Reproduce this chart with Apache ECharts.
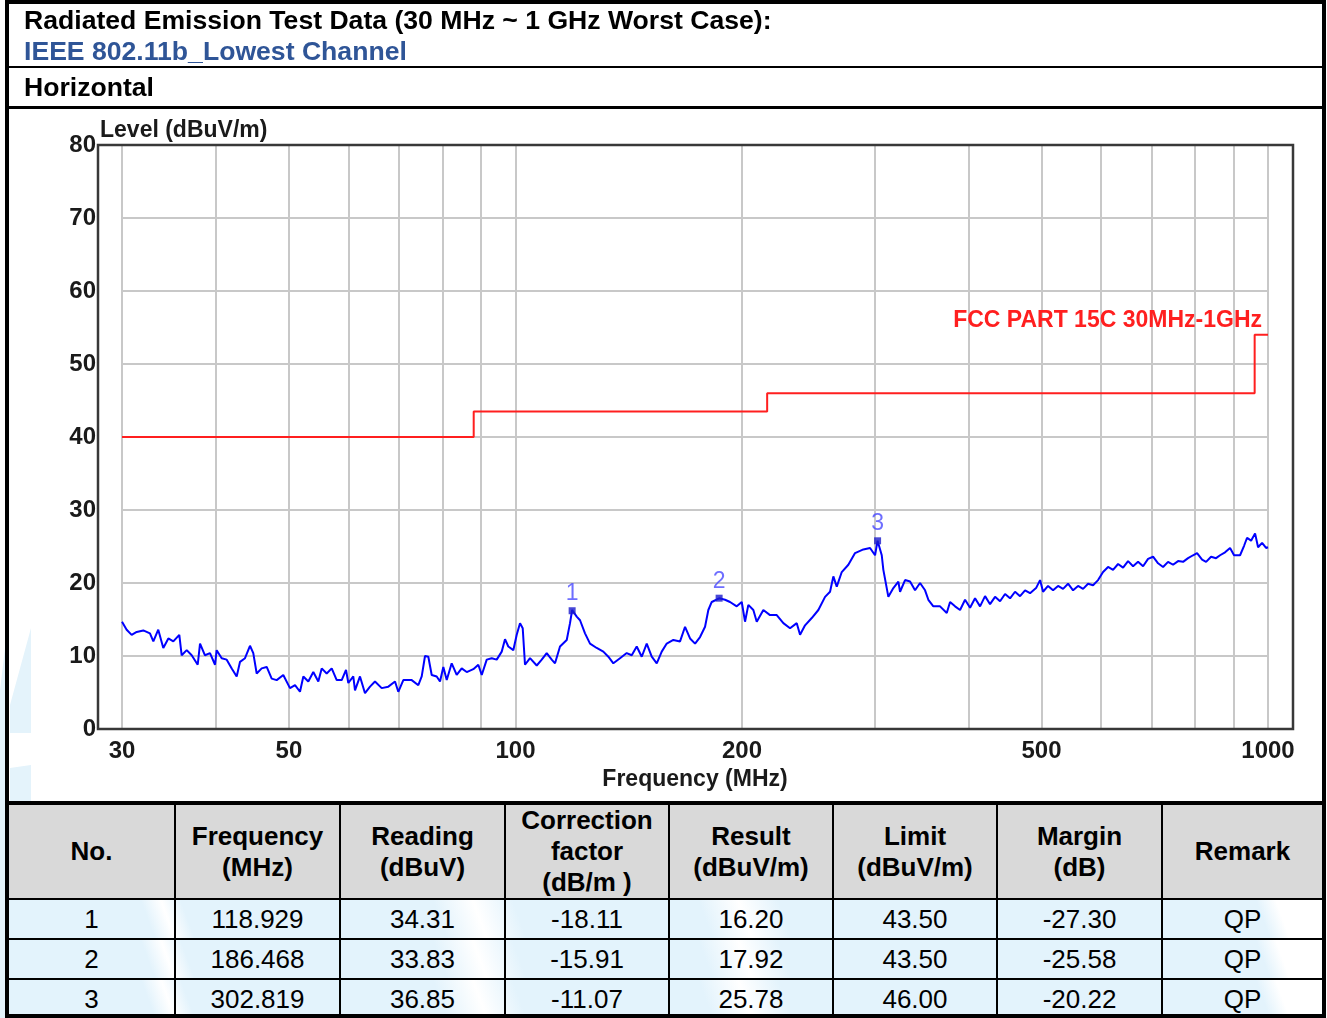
<!DOCTYPE html>
<html>
<head>
<meta charset="utf-8">
<script src="https://cdn.jsdelivr.net/npm/echarts@6/dist/echarts.min.js"></script>
<style>
html,body{margin:0;padding:0;width:1327px;height:1018px;overflow:hidden;background:#fff;font-family:"Liberation Sans",Arial,sans-serif;}
#chart{position:absolute;left:0;top:0;width:1327px;height:1018px;z-index:1;}
.frame{position:absolute;left:5px;top:0;width:1321px;height:1018px;border:4px solid #000;box-sizing:border-box;z-index:6;pointer-events:none;}
.hline{position:absolute;left:5px;width:1321px;background:#000;z-index:6;}
.ttl{position:absolute;left:24px;font-size:26.6px;font-weight:bold;line-height:30px;white-space:nowrap;z-index:4;}
#tbl{position:absolute;left:9px;top:805px;width:1313px;border-collapse:collapse;table-layout:fixed;z-index:3;}
#tbl td{border:2px solid #000;text-align:center;padding:0;font-size:26px;color:#000;white-space:pre-line;}
#tbl tr:first-child td{border-top:none;}
#tbl tr:last-child td{border-bottom:none;}
#tbl td:first-child{border-left:none;}
#tbl td:last-child{border-right:none;}
#tbl tr.hd td{background:#d9d9d9;font-weight:bold;height:91px;line-height:31px;}
#tbl tr.dr td{height:38px;line-height:30px;}
#tbl tbody tr.dr{background:linear-gradient(70deg,#e3f3fc 0%,#e3f3fc 11%,#ffffff 12.5%,#e3f3fc 14%,#e3f3fc 33%,#ffffff 36%,#e3f3fc 39%,#e3f3fc 53%,#ffffff 56%,#e3f3fc 59%,#e3f3fc 95%,#ffffff 96.5%,#ffffff 100%);}
</style>
</head>
<body>
<div id="chart"></div>
<div class="ttl" style="top:5px;color:#000;">Radiated Emission Test Data (30 MHz ~ 1 GHz Worst Case):</div>
<div class="ttl" style="top:36px;color:#2f5597;">IEEE 802.11b_Lowest Channel</div>
<div class="ttl" style="top:72px;color:#000;">Horizontal</div>
<div class="hline" style="top:66px;height:2px;"></div>
<div class="hline" style="top:106px;height:3px;"></div>
<div class="hline" style="top:801px;height:4px;"></div>
<table id="tbl"></table>
<div class="frame"></div>
<script>
// ---------- measured trace (MHz, dBuV/m) ----------
const freqs = [
  30.00, 30.43, 30.90, 31.38, 32.02, 32.68, 33.02, 33.52, 34.04, 34.57,
  35.10, 35.75, 36.01, 36.57, 37.13, 37.82, 38.09, 38.67, 39.27, 39.88,
  40.08, 40.70, 41.33, 41.97, 42.61, 43.05, 43.71, 44.38, 44.83, 45.30,
  46.00, 46.71, 47.43, 48.16, 49.14, 50.16, 50.94, 51.72, 52.25, 53.05,
  53.87, 54.70, 55.27, 56.12, 56.99, 57.87, 58.76, 59.54, 59.96, 60.88,
  61.20, 62.14, 63.10, 64.08, 65.06, 66.41, 67.77, 69.17, 69.87, 70.95,
  72.80, 74.28, 75.06, 75.82, 76.59, 77.39, 78.58, 79.38, 80.19, 81.03,
  82.27, 83.54, 84.83, 86.14, 87.90, 89.25, 90.19, 91.58, 92.99, 94.42,
  95.88, 96.85, 97.83, 99.34, 100.38, 101.40, 102.24, 102.96, 104.55, 106.72,
  108.36, 110.03, 111.73, 112.86, 114.60, 116.98, 118.16, 118.93, 120.61, 121.84,
  123.71, 125.62, 128.22, 130.84, 132.86, 134.91, 137.70, 140.55, 142.72, 144.92,
  147.16, 149.42, 151.73, 154.07, 156.44, 158.86, 162.10, 165.46, 168.01, 170.60,
  173.23, 175.90, 178.61, 180.42, 182.31, 186.47, 189.88, 192.81, 196.80, 199.84,
  201.86, 203.91, 207.06, 209.22, 213.49, 217.91, 222.43, 226.97, 231.67, 236.47,
  238.87, 242.55, 247.57, 252.63, 257.86, 261.83, 264.49, 267.26, 271.38, 276.92,
  282.65, 289.92, 295.93, 300.49, 302.82, 306.71, 308.22, 312.97, 317.80, 322.70,
  324.38, 329.38, 334.46, 339.61, 344.85, 350.17, 353.72, 359.17, 366.61, 374.21,
  378.01, 383.83, 389.75, 395.76, 401.86, 408.05, 414.35, 420.73, 427.22, 433.81,
  440.49, 447.29, 454.18, 461.18, 468.29, 475.52, 482.85, 491.79, 497.85, 502.44,
  510.19, 518.06, 526.04, 534.15, 542.39, 550.75, 559.24, 567.86, 576.62, 585.51,
  594.54, 603.70, 613.01, 622.46, 632.06, 641.80, 651.70, 661.75, 671.95, 682.31,
  692.83, 703.51, 714.36, 725.37, 736.55, 747.91, 759.44, 771.15, 783.04, 795.11,
  804.90, 817.31, 827.37, 840.13, 853.08, 863.59, 876.90, 890.42, 901.38, 918.08,
  929.39, 937.96, 949.51, 961.20, 970.07, 982.01, 994.10, 1000.00
];
const levels = [
  14.7, 13.6, 12.9, 13.3, 13.5, 13.1, 12.0, 13.6, 11.1, 12.4,
  12.0, 12.9, 10.1, 10.8, 10.1, 8.8, 11.7, 10.1, 10.4, 8.8,
  10.8, 9.7, 9.5, 8.3, 7.2, 9.2, 9.7, 11.4, 10.4, 7.6,
  8.3, 8.5, 6.9, 6.7, 7.4, 5.6, 6.0, 5.1, 7.2, 6.5,
  7.8, 6.5, 8.3, 7.6, 8.3, 6.7, 6.7, 8.1, 6.3, 7.2,
  5.3, 7.2, 4.9, 5.8, 6.5, 5.6, 5.8, 6.5, 5.1, 6.7,
  6.7, 6.0, 7.2, 10.0, 9.9, 7.4, 7.2, 6.5, 8.5, 6.7,
  9.0, 7.4, 8.3, 7.8, 8.2, 8.8, 7.4, 9.5, 9.7, 9.5,
  10.6, 12.3, 11.3, 10.8, 12.9, 14.5, 13.8, 8.8, 9.7, 8.7,
  9.5, 10.4, 9.5, 9.0, 11.3, 12.2, 14.5, 16.3, 15.4, 14.9,
  13.1, 11.7, 11.1, 10.6, 9.9, 9.0, 9.7, 10.4, 10.1, 11.3,
  9.9, 11.7, 9.9, 9.0, 10.6, 11.7, 12.2, 12.0, 14.0, 12.4,
  11.7, 12.6, 14.0, 16.3, 17.4, 17.9, 17.7, 17.4, 16.8, 17.4,
  14.7, 17.0, 16.3, 14.7, 16.3, 15.6, 15.6, 14.5, 13.8, 14.5,
  12.9, 14.2, 15.2, 16.3, 18.1, 18.8, 20.9, 19.5, 21.5, 22.5,
  24.1, 24.6, 24.8, 23.8, 25.8, 23.8, 21.8, 18.1, 19.3, 20.2,
  18.8, 20.4, 20.2, 19.0, 20.0, 19.0, 17.7, 16.8, 16.8, 15.9,
  17.4, 16.8, 16.3, 17.7, 16.6, 17.9, 16.8, 18.2, 17.1, 18.1,
  17.5, 18.5, 17.9, 18.8, 18.2, 19.0, 18.6, 19.3, 20.4, 18.8,
  19.6, 19.0, 19.6, 19.2, 19.9, 19.0, 19.6, 19.2, 19.9, 19.7,
  20.4, 21.5, 22.2, 21.8, 22.6, 22.1, 23.0, 22.3, 22.9, 22.3,
  23.3, 23.6, 22.7, 22.2, 22.9, 22.5, 23.0, 22.9, 23.4, 23.8,
  24.1, 23.2, 22.9, 23.6, 23.4, 23.8, 24.2, 24.8, 23.8, 23.8,
  25.1, 26.2, 25.8, 26.8, 24.9, 25.5, 24.8, 24.9
];
// ---------- limit line (FCC Part 15C) ----------
const limitName = 'FCC PART 15C 30MHz-1GHz';
const limitFreqs = [30, 88, 88, 216, 216, 960, 960, 1000];
const limitLevels = [40, 40, 43.5, 43.5, 46, 46, 54, 54];
// ---------- markers ----------
const markerNo = ['1', '2', '3'];
const markerFreqs = [118.929, 186.468, 302.819];
const markerLevels = [16.20, 17.92, 25.78];
// ---------- axes ----------
const gridFreqs = [30, 40, 50, 60, 70, 80, 90, 100, 200, 300, 400, 500, 600, 700, 800, 900, 1000];
const labelFreqs = [30, 50, 100, 200, 500, 1000];
const yMin = 0, yMax = 80, yStep = 10;
const yName = 'Level (dBuV/m)';
const xName = 'Frequency (MHz)';
// ---------- table ----------
const tableHeaders = ['No.', 'Frequency\n(MHz)', 'Reading\n(dBuV)', 'Correction\nfactor\n(dB/m )', 'Result\n(dBuV/m)', 'Limit\n(dBuV/m)', 'Margin\n(dB)', 'Remark'];
const colNo = ['1', '2', '3'];
const colFrequency = ['118.929', '186.468', '302.819'];
const colReading = ['34.31', '33.83', '36.85'];
const colCorrection = ['-18.11', '-15.91', '-11.07'];
const colResult = ['16.20', '17.92', '25.78'];
const colLimit = ['43.50', '43.50', '46.00'];
const colMargin = ['-27.30', '-25.58', '-20.22'];
const colRemark = ['QP', 'QP', 'QP'];

// build table
(function () {
  const widths = [166, 165, 165, 164, 164, 164, 165, 160];
  const t = document.getElementById('tbl');
  let html = '<colgroup>' + widths.map(w => '<col style="width:' + w + 'px">').join('') + '</colgroup>';
  html += '<tr class="hd">' + tableHeaders.map(h => '<td>' + h + '</td>').join('') + '</tr>';
  for (let i = 0; i < colNo.length; i++) {
    const row = [colNo[i], colFrequency[i], colReading[i], colCorrection[i], colResult[i], colLimit[i], colMargin[i], colRemark[i]];
    html += '<tr class="dr">' + row.map(c => '<td>' + c + '</td>').join('') + '</tr>';
  }
  t.innerHTML = html;
})();

const lg = Math.log10;
const chart = echarts.init(document.getElementById('chart'), null, { renderer: 'canvas' });
const font = '"Liberation Sans", Arial, sans-serif';
chart.setOption({
  animation: false,
  graphic: [
    { type: 'polygon', z: 0, shape: { points: [[10, 733], [10, 705], [31, 628], [31, 733]] }, style: { fill: '#e4f3fb' } },
    { type: 'polygon', z: 0, shape: { points: [[10, 801], [10, 768], [31, 765], [31, 801]] }, style: { fill: '#e4f3fb' } },
    { type: 'polygon', z: 0, shape: { points: [[0, 1018], [0, 690], [6, 640], [6, 1018]] }, style: { fill: '#e4f3fb' } },
    { type: 'rect', z: 50, shape: { x: 98, y: 145, width: 1195, height: 584 }, style: { fill: 'none', stroke: '#383838', lineWidth: 2.5 } },
    { type: 'text', z: 50, left: 100, top: 119, style: { text: yName, font: 'bold 23px ' + font, fill: '#1a1a1a' } },
    { type: 'text', z: 50, style: { x: 1262, y: 321, text: limitName, font: 'bold 23px ' + font, fill: '#ff1f1f', align: 'right', verticalAlign: 'middle' } }
  ],
  grid: { left: 122, right: 59, top: 145, bottom: 289, containLabel: false },
  xAxis: {
    type: 'value', min: lg(30), max: lg(1000),
    name: xName, nameLocation: 'middle', nameGap: 28,
    nameTextStyle: { fontFamily: font, fontWeight: 'bold', fontSize: 23, color: '#1a1a1a' },
    axisLine: { show: false },
    axisTick: { show: false, customValues: gridFreqs.map(lg) },
    splitLine: { show: true, lineStyle: { color: '#c8c8c8', width: 2 } },
    axisLabel: {
      customValues: labelFreqs.map(lg), margin: 10,
      fontFamily: font, fontWeight: 'bold', fontSize: 24, color: '#1a1a1a',
      formatter: v => String(Math.round(Math.pow(10, v)))
    }
  },
  yAxis: {
    type: 'value', min: yMin, max: yMax, interval: yStep,
    axisLine: { show: false }, axisTick: { show: false },
    splitLine: { show: true, lineStyle: { color: '#c8c8c8', width: 2 } },
    axisLabel: { margin: 26, fontFamily: font, fontWeight: 'bold', fontSize: 24, color: '#1a1a1a' }
  },
  series: [
    {
      type: 'line', name: limitName, z: 3, symbol: 'none', silent: true,
      lineStyle: { color: '#ff1f1f', width: 2 },
      data: limitFreqs.map((f, i) => [lg(f), limitLevels[i]])
    },
    {
      type: 'line', name: 'Horizontal', z: 4, symbol: 'none', silent: true,
      lineStyle: { color: '#0000ff', width: 2 },
      data: freqs.map((f, i) => [lg(f), levels[i]])
    },
    {
      type: 'scatter', name: 'Markers', z: 5, symbol: 'rect', symbolSize: 7, silent: true,
      itemStyle: { color: '#1a1acc' },
      label: {
        show: true, position: 'top', distance: 2,
        formatter: p => markerNo[p.dataIndex],
        fontFamily: font, fontSize: 23, color: '#4a4aff'
      },
      data: markerFreqs.map((f, i) => [lg(f), markerLevels[i]])
    }
  ]
});
</script>
</body>
</html>
